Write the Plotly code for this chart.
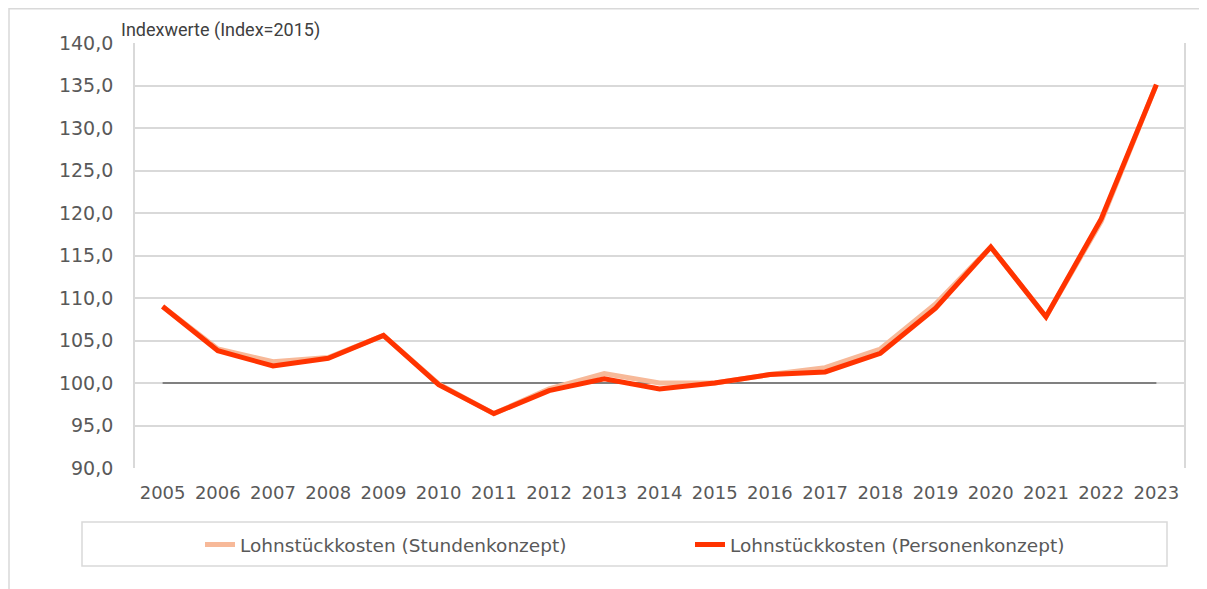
import plotly.graph_objects as go

years = [str(y) for y in range(2005, 2024)]
stunden = [109.0, 104.0, 102.5, 103.0, 105.6, 99.9, 96.4, 99.3, 101.1, 100.0, 100.0, 101.0, 101.8, 104.0, 109.3, 116.0, 107.8, 119.0, 135.1]
personen = [109.0, 103.8, 102.0, 102.9, 105.6, 99.8, 96.4, 99.1, 100.5, 99.3, 100.0, 101.0, 101.3, 103.5, 108.8, 116.0, 107.8, 119.3, 135.1]
baseline = [100.0] * len(years)
y_ticks = [90, 95, 100, 105, 110, 115, 120, 125, 130, 135, 140]

FONT = "DejaVu Sans"
TXT = "#595959"
OFF = 8  # page body margin
W, H = 1207 - OFF, 589 - OFF
L, R, T, B = 135 - OFF, 23, 43 - OFF, 121
PW, PH = W - L - R, H - T - B


def px_x(x):  # window pixel -> paper
    return (x - OFF - L) / PW


def px_y(y):
    return (H - B - (y - OFF)) / PH


fig = go.Figure()
fig.add_trace(go.Scatter(x=years, y=baseline, mode="lines",
                         line=dict(color="#808080", width=1.8), showlegend=False, hoverinfo="skip"))
fig.add_trace(go.Scatter(x=years, y=stunden, mode="lines", name="Lohnstückkosten (Stundenkonzept)",
                         line=dict(color="#F7B999", width=5)))
fig.add_trace(go.Scatter(x=years, y=personen, mode="lines", name="Lohnstückkosten (Personenkonzept)",
                         line=dict(color="#FF3300", width=5)))

fig.update_layout(
    width=W, height=H,
    margin=dict(l=L, r=R, t=T, b=B, autoexpand=False),
    paper_bgcolor="white", plot_bgcolor="white",
    separators=",.",
    font=dict(family=FONT, color=TXT),
    xaxis=dict(type="category", range=[-0.5, 18.5], showgrid=False, showline=False,
               ticks="", tickfont=dict(size=18, color=TXT), ticklabelstandoff=12),
    yaxis=dict(range=[90, 140], tickvals=y_ticks, tickformat=".1f",
               showgrid=True, gridcolor="#d9d9d9", gridwidth=1.8,
               showline=True, mirror=True, linecolor="#d9d9d9", linewidth=1.8,
               zeroline=False, ticks="", tickfont=dict(size=19, color=TXT), ticklabelstandoff=16),
    legend=dict(orientation="h", x=px_x(200), xanchor="left", y=px_y(545), yanchor="middle",
                font=dict(size=18.5, color=TXT), bgcolor="rgba(0,0,0,0)",
                entrywidth=445, entrywidthmode="pixels"),
    showlegend=True,
)

fig.add_annotation(text="Indexwerte (Index=2015)", xref="paper", yref="paper",
                   x=px_x(119), y=px_y(30), xanchor="left", yanchor="middle",
                   showarrow=False, font=dict(size=18, color="#404040", family="Roboto"))

# outer chart frame (top and left edges visible)
fig.add_shape(type="line", xref="paper", yref="paper",
              x0=px_x(9), x1=px_x(1207), y0=px_y(8.8), y1=px_y(8.8),
              line=dict(color="#d9d9d9", width=1.5), layer="below")
fig.add_shape(type="line", xref="paper", yref="paper",
              x0=px_x(9), x1=px_x(9), y0=px_y(8), y1=px_y(589),
              line=dict(color="#d9d9d9", width=1.5), layer="below")
# legend box
fig.add_shape(type="rect", xref="paper", yref="paper",
              x0=px_x(82), x1=px_x(1167), y0=px_y(566), y1=px_y(522),
              line=dict(color="#d9d9d9", width=1.5), layer="below")

fig.write_html("out.html")
